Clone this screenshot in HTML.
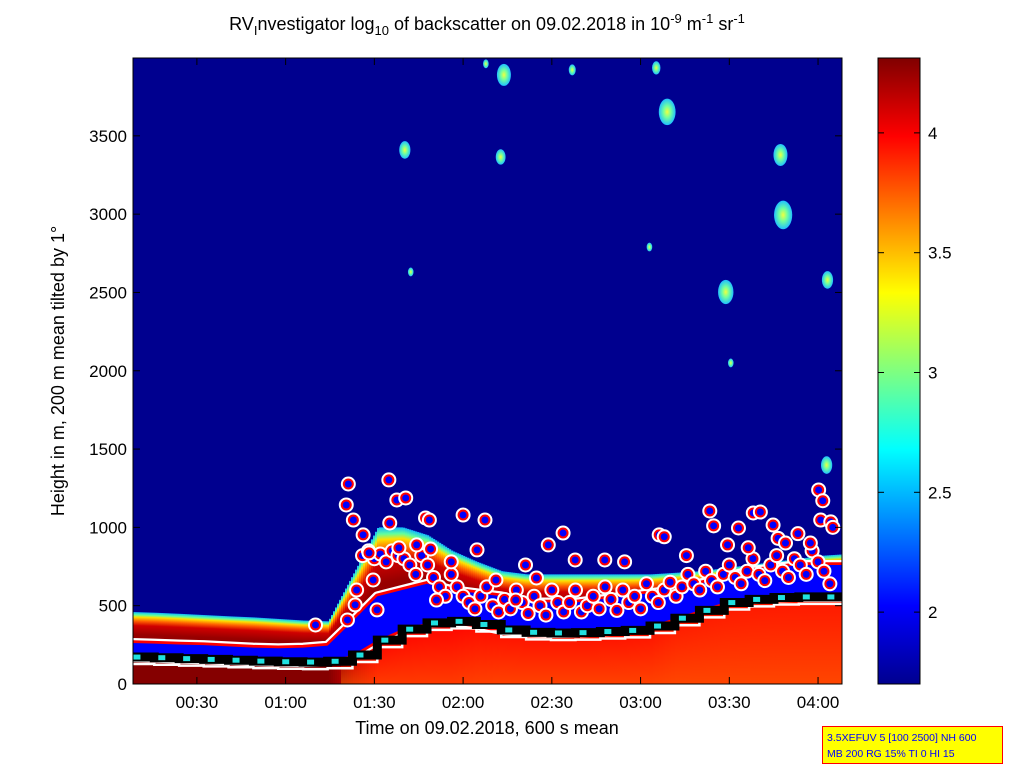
<!DOCTYPE html>
<html><head><meta charset="utf-8"><style>
html,body{margin:0;padding:0;background:#fff;}
svg{display:block;font-family:"Liberation Sans",sans-serif;}
</style></head><body>
<svg id="fig" width="1023" height="767" viewBox="0 0 1023 767">
<defs>
<linearGradient id="midGrad" x1="0" y1="0" x2="0" y2="1">
<stop offset="0" stop-color="#10b8ff"/><stop offset="0.06" stop-color="#60ffa0"/><stop offset="0.11" stop-color="#ffe000"/><stop offset="0.2" stop-color="#ff6000"/><stop offset="0.3" stop-color="#d00000"/><stop offset="0.5" stop-color="#980000"/><stop offset="1" stop-color="#800000"/>
</linearGradient>
<linearGradient id="lowGrad" x1="0" y1="0" x2="0" y2="1">
<stop offset="0" stop-color="#ff8000" stop-opacity="0"/><stop offset="1" stop-color="#ff8000" stop-opacity="0.45"/>
</linearGradient>
<linearGradient id="cbGrad" x1="0" y1="1" x2="0" y2="0">
<stop offset="0" stop-color="#00008f"/><stop offset="0.125" stop-color="#0000ff"/><stop offset="0.375" stop-color="#00ffff"/><stop offset="0.625" stop-color="#ffff00"/><stop offset="0.875" stop-color="#ff0000"/><stop offset="1" stop-color="#800000"/>
</linearGradient>
<radialGradient id="cloudGrad"><stop offset="0" stop-color="#f0ff40"/><stop offset="0.45" stop-color="#70ffa0"/><stop offset="1" stop-color="#20c0ff"/></radialGradient>
<clipPath id="plotClip"><rect x="133" y="58" width="709" height="626"/></clipPath>
</defs>
<text x="487" y="30" text-anchor="middle" font-size="18">RV<tspan font-size="13" dy="5">I</tspan><tspan dy="-5">nvestigator log</tspan><tspan font-size="13" dy="5">10</tspan><tspan dy="-5"> of backscatter on 09.02.2018 in 10</tspan><tspan font-size="13" dy="-7">-9</tspan><tspan dy="7"> m</tspan><tspan font-size="13" dy="-7">-1</tspan><tspan dy="7"> sr</tspan><tspan font-size="13" dy="-7">-1</tspan></text>
<rect x="133" y="58" width="709" height="626" fill="#00008f"/>
<g id="heat" clip-path="url(#plotClip)"></g>
<g id="marks" clip-path="url(#plotClip)"></g>
<g id="axes"></g>
<text transform="translate(64,371) rotate(-90)" text-anchor="middle" font-size="18">Height in m, 200 m mean tilted by 1°</text>
<text x="487" y="734" text-anchor="middle" font-size="18">Time on 09.02.2018, 600 s mean</text>
<rect x="878" y="58" width="42" height="626" fill="url(#cbGrad)" stroke="#000"/>
<g id="cbticks"></g>
<g>
<rect x="822.5" y="726.5" width="180" height="37" fill="#ffff00" stroke="#ff0000" stroke-width="1"/>
<text x="827" y="741" font-size="10.5" fill="#0000ff">3.5XEFUV 5 [100 2500] NH 600</text>
<text x="827" y="757" font-size="10.5" fill="#0000ff">MB 200 RG 15% TI 0 HI 15</text>
</g>
</svg>
<script>
// ---- data (time in minutes after 00:00, height in m) ----
const binTimes = [7.2,15.6,24.0,32.3,40.7,49.1,57.5,65.9,74.2,82.6,91.0,99.4,107.8,116.1,124.5,132.9,141.3,149.7,158.0,166.4,174.8,183.2,191.6,199.9,208.3,216.7,225.1,233.5,241.8,250.2];
const blhHeight = [172,168,162,157,152,146,142,140,145,185,280,350,390,400,380,345,330,326,328,335,342,370,420,470,520,540,552,556,556,556];
const aerosolTop = [460,455,448,440,432,425,415,405,400,700,1000,1000,950,850,780,720,700,700,700,700,700,700,710,720,740,760,780,800,820,830];
const bandTop = [262,258,252,248,240,232,228,232,245,400,560,600,640,600,580,560,520,520,520,540,560,580,600,640,680,720,740,760,760,760];
const lowerValue = [4.3,4.3,4.3,4.3,4.3,4.3,4.3,4.3,4.3,4.1,3.98,3.98,3.98,3.98,3.96,3.95,3.95,3.95,3.95,3.95,3.95,3.95,3.93,3.93,3.93,3.93,3.93,3.93,3.93,3.93];
const circleT = [81.2,80.5,82.9,86.2,88.2,94.9,97.6,100.6,95.2,98.3,104.3,107.3,108.6,120.0,127.4,109.0,89.6,90.9,83.5,80.9,70.1,111.0,124.7,131.1,137.8,144.8,148.8,153.8,157.9,167.9,186.3,188.0,203.4,204.7,209.4,213.1,218.1,220.5,224.8,226.5,233.2,237.4,240.9,244.3,240.2,241.6,245.0,116.0,141.1,174.6,195.5,216.4,229.0];
const circleH = [1277,1143,1047,952,837,1303,1175,1188,1028,869,888,1060,1047,1079,1047,862,664,473,505,409,377,536,856,664,536,677,888,964,792,792,952,940,1105,1010,888,996,1092,1098,1015,930,960,900,1047,1035,1239,1170,1000,780,760,780,820,870,900];
const denseT = [84,86,88,90,92,94,96,98,100,102,104,106,108,110,112,114,116,118,120,122,124,126,128,130,132,134,136,138,140,142,144,146,148,150,152,154,156,158,160,162,164,166,168,170,172,174,176,178,180,182,184,186,188,190,192,194,196,198,200,202,204,206,208,210,212,214,216,218,220,222,224,226,228,230,232,234,236,238,240,242,244];
const denseH = [600,820,850,800,830,780,850,820,800,760,700,820,760,680,620,560,700,620,560,520,480,560,620,500,460,540,480,600,520,450,560,500,440,600,520,460,520,600,460,500,560,480,620,540,470,600,520,560,480,640,560,520,600,650,560,620,700,640,600,720,660,620,700,760,680,640,720,800,700,660,760,820,720,680,800,760,700,850,780,720,640];
const cloudT = [133.8,189.0,100.3,132.7,227.3,228.2,208.8,243.2,242.9,185.3,156.9,102.3,210.5,127.7,183.0];
const cloudH = [3889,3653,3410,3365,3378,2995,2503,2580,1398,3934,3921,2631,2050,3960,2790];
const cloudSize = [1,1.2,0.8,0.7,1,1.3,1.1,0.8,0.8,0.6,0.5,0.4,0.4,0.4,0.4];
const yTicks = [0,500,1000,1500,2000,2500,3000,3500];
const xTickTimes = [30,60,90,120,150,180,210,240];
const xTickLabels = ["00:30","01:00","01:30","02:00","02:30","03:00","03:30","04:00"];
const cbTicks = [2,2.5,3,3.5,4];

// ---- scales ----
const X0=133, X1=842, Y0=684, Y1=58;
const tMin=8.4, tMax=248.1, hMax=3997;
const xs = t => X0 + (t-tMin)/(tMax-tMin)*(X1-X0);
const ys = h => Y0 - h/hMax*(Y0-Y1);
const cbs = v => 684 - (v-1.7)/(4.3125-1.7)*626;
const NS='http://www.w3.org/2000/svg';
function mk(tag, attrs, parent){const e=document.createElementNS(NS,tag);for(const k in attrs)e.setAttribute(k,attrs[k]);parent.appendChild(e);return e;}
function interp(arr,t){if(t<=binTimes[0])return arr[0];for(let i=1;i<binTimes.length;i++){if(t<=binTimes[i]){const f=(t-binTimes[i-1])/(binTimes[i]-binTimes[i-1]);return arr[i-1]+f*(arr[i]-arr[i-1]);}}return arr[arr.length-1];}
function jet(v){const f=Math.max(0,Math.min(1,(v-1.7)/(4.3125-1.7)));
 const st=[[0,0,0,143],[0.125,0,0,255],[0.375,0,255,255],[0.625,255,255,0],[0.875,255,0,0],[1,128,0,0]];
 for(let i=1;i<st.length;i++){if(f<=st[i][0]){const a=st[i-1],b=st[i],g=(f-a[0])/(b[0]-a[0]);return `rgb(${Math.round(a[1]+g*(b[1]-a[1]))},${Math.round(a[2]+g*(b[2]-a[2]))},${Math.round(a[3]+g*(b[3]-a[3]))})`;}}return 'rgb(128,0,0)';}

const heat=document.getElementById('heat'), marks=document.getElementById('marks'), axes=document.getElementById('axes');
for(let px=X0;px<X1;px+=2){
 const t=tMin+(px-X0)/(X1-X0)*(tMax-tMin);
 const blh=interp(blhHeight,t), top=interp(aerosolTop,t), lv=interp(lowerValue,t);
 const lo=mk('rect',{x:px,y:ys(blh),width:2.2,height:Y0-ys(blh),fill:jet(lv)},heat);
 
 
 if(lv<4.2){const ov=mk('rect',{x:px,y:ys(blh),width:2.2,height:Y0-ys(blh),fill:'url(#lowGrad)'},heat);
  
  }
 const mid=mk('rect',{x:px,y:ys(top),width:2.2,height:ys(blh)-ys(top),fill:'url(#midGrad)'},heat);
 
 
}
cloudT.forEach((t,i)=>{const e=mk('ellipse',{cx:xs(t),cy:ys(cloudH[i]),rx:7*cloudSize[i],ry:11*cloudSize[i],fill:'url(#cloudGrad)'},heat);
 
 });
let pts=[];for(let i=0;i<binTimes.length;i++)pts.push(xs(binTimes[i])+','+ys(bandTop[i]));
for(let i=binTimes.length-1;i>=0;i--)pts.push(xs(binTimes[i])+','+ys(blhHeight[i]));
const P=pts.join(' ');
const b1=mk('polygon',{points:P,fill:'#fff',stroke:'#fff','stroke-width':10,'stroke-linejoin':'round'},marks);


const b2=mk('polygon',{points:P,fill:'#f00',stroke:'#f00','stroke-width':5.5,'stroke-linejoin':'round'},marks);


const b3=mk('polygon',{points:P,fill:'#0000ff'},marks);


function circ(t,h,name){const cx=xs(t),cy=ys(h);
 const g=mk('g',{},marks);
 
 
 mk('circle',{cx:cx,cy:cy,r:7.5,fill:'#fff'},g);mk('circle',{cx:cx,cy:cy,r:5.5,fill:'#f00'},g);mk('circle',{cx:cx,cy:cy,r:3.5,fill:'#0000ff'},g);}
denseT.forEach((t,i)=>circ(t,denseH[i],'dense-layer-circle'));
circleT.forEach((t,i)=>circ(t,circleH[i],'layer-circle'));
let d='',dw='';binTimes.forEach((t,i)=>{const x=xs(t),y=ys(blhHeight[i]);const xn=i<binTimes.length-1?xs(binTimes[i+1]):X1+5;d+=(i?' L':'M')+x+','+y+' L'+xn+','+y;dw+=(i?' L':'M')+x+','+(y+7)+' L'+xn+','+(y+7);});
const wl=mk('path',{d:dw,fill:'none',stroke:'#fff','stroke-width':2.5},marks);


const bl=mk('path',{d:d,fill:'none',stroke:'#000','stroke-width':9},marks);


binTimes.forEach((t,i)=>{const s=mk('rect',{x:xs(t)+4,y:ys(blhHeight[i])-2.5,width:7,height:5,fill:'#20e0e0'},marks);
 
 });
const fr=mk('rect',{x:X0,y:Y1,width:X1-X0,height:Y0-Y1,fill:'none',stroke:'#000','stroke-width':1},axes);


yTicks.forEach(h=>{const y=ys(h);
 mk('line',{x1:X0,x2:X0+7,y1:y,y2:y,stroke:'#000'},axes);mk('line',{x1:X1,x2:X1-7,y1:y,y2:y,stroke:'#000'},axes);
 const tx=mk('text',{x:X0-6,y:y+6,'text-anchor':'end','font-size':17},axes);tx.textContent=h;
 
 });
xTickTimes.forEach((t,i)=>{const x=xs(t);
 mk('line',{x1:x,x2:x,y1:Y0,y2:Y0-7,stroke:'#000'},axes);mk('line',{x1:x,x2:x,y1:Y1,y2:Y1+7,stroke:'#000'},axes);
 const tx=mk('text',{x:x,y:Y0+24,'text-anchor':'middle','font-size':17},axes);tx.textContent=xTickLabels[i];
 
 });
const cbg=document.getElementById('cbticks');
cbTicks.forEach(v=>{const y=cbs(v);
 mk('line',{x1:878,x2:884,y1:y,y2:y,stroke:'#000'},cbg);mk('line',{x1:920,x2:914,y1:y,y2:y,stroke:'#000'},cbg);
 const tx=mk('text',{x:928,y:y+6,'font-size':17},cbg);tx.textContent=v;
 
 });
</script>
</body></html>
